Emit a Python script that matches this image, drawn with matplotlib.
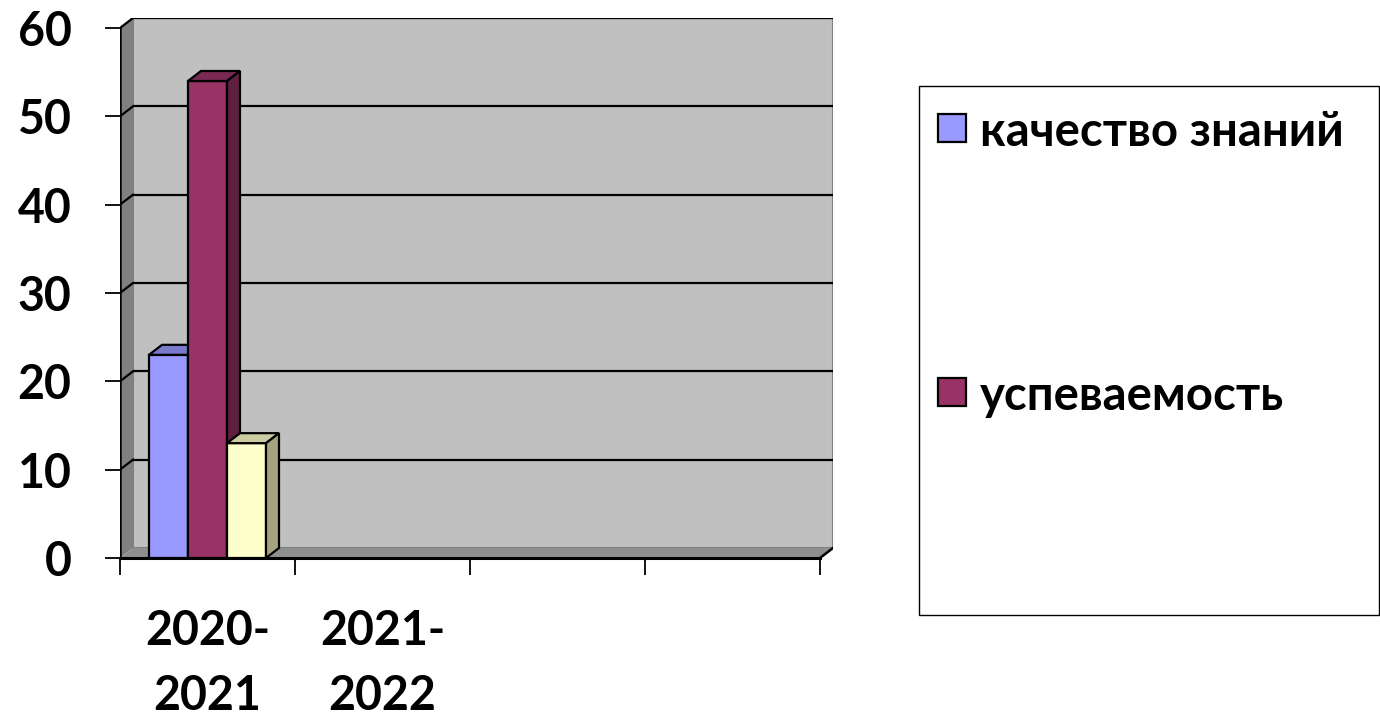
import numpy as np
import matplotlib
matplotlib.use("Agg")
import matplotlib.pyplot as plt
from matplotlib.patches import Polygon, Rectangle

# ---------------- data ----------------
categories = ["2020-\n2021", "2021-\n2022", "", ""]
series_names = ["качество знаний", "успеваемость", None]
quality = [23, np.nan, np.nan, np.nan]
progress = [54, np.nan, np.nan, np.nan]
third = [13, np.nan, np.nan, np.nan]
y_ticks = [0, 10, 20, 30, 40, 50, 60]

series_values = [quality, progress, third]
front_colors = ["#9999FF", "#993366", "#FFFFCC"]
top_colors = ["#7A7ACC", "#7A2952", "#CCCCA3"]
side_colors = ["#6B6BB3", "#5F2040", "#A3A380"]

FONT = ["Lato", "DejaVu Sans"]
plt.rcParams["font.family"] = FONT
plt.rcParams["font.weight"] = "bold"

W, H = 1380, 720
fig = plt.figure(figsize=(W / 100, H / 100), dpi=100)
fig.patch.set_facecolor("white")

# axes in pixel geometry
x0, x1, ytop, ybot = 120, 833, 18, 558
ax = fig.add_axes([x0 / W, 1 - ybot / H, (x1 - x0) / W, (ybot - ytop) / H])
ax.patch.set_visible(False)

ncat = len(categories)
ymax = 60
px_per_cat = 700 / ncat
px_per_unit = 530 / ymax
dx = 13 / px_per_cat
dy = 10 / px_per_unit
ax.set_xlim(0, ncat + dx)
ax.set_ylim(0, ymax + dy)
for s in ax.spines.values():
    s.set_visible(False)

# walls
side_wall = Polygon([(0, 0), (dx, dy), (dx, ymax + dy), (0, ymax)], closed=True,
                    facecolor="#808080", edgecolor="none", zorder=0)
ax.add_patch(side_wall)
back_wall = Rectangle((dx, dy), ncat, ymax, facecolor="#C0C0C0",
                      edgecolor="#808080", lw=1.5, zorder=0)
ax.add_patch(back_wall)
floor = Polygon([(0, 0), (ncat, 0), (ncat + dx, dy), (dx, dy)], closed=True,
                facecolor="#8F8F8F", edgecolor="none", zorder=0.5)
ax.add_patch(floor)

# gridlines
for v in y_ticks[1:]:
    ax.plot([dx, ncat + dx], [v + dy, v + dy], color="black", lw=1.6, zorder=1,
            solid_capstyle="butt")
    ax.plot([0, dx], [v, v + dy], color="black", lw=1.6, zorder=1)
# axis lines
ax.plot([0, 0], [0, ymax], color="black", lw=1.8, zorder=2)
ax.plot([0, ncat], [0, 0], color="black", lw=2.2, zorder=2, clip_on=False)
ax.plot([ncat, ncat + dx], [0, dy], color="black", lw=1.8, zorder=2)

# bars
nser = len(series_values)
group = 0.6686
bw = group / nser
z = 3
for ci in range(ncat):
    for si, vals in enumerate(series_values):
        h = vals[ci]
        if np.isnan(h):
            continue
        c = ci + 0.5 + (si - (nser - 1) / 2) * bw
        l, r = c - bw / 2, c + bw / 2
        ax.bar(c, h, bw, color=front_colors[si], edgecolor="black", lw=1.6, zorder=z)
        ax.add_patch(Polygon([(l, h), (r, h), (r + dx, h + dy), (l + dx, h + dy)],
                             closed=True, facecolor=top_colors[si], edgecolor="black",
                             lw=1.6, zorder=z))
        ax.add_patch(Polygon([(r, 0), (r + dx, dy), (r + dx, h + dy), (r, h)],
                             closed=True, facecolor=side_colors[si], edgecolor="black",
                             lw=1.6, zorder=z))
        z += 1

# ticks
ax.set_yticks(y_ticks)
ax.set_yticklabels([str(v) for v in y_ticks])
ax.tick_params(axis="y", length=11, width=1.3, pad=24, labelsize=33.5)
ax.set_xticks(np.arange(ncat + 1))
ax.set_xticklabels([""] * (ncat + 1))
ax.tick_params(axis="x", which="major", length=12.5, width=1.3)
ax.set_xticks(np.arange(ncat) + 0.5, minor=True)
ax.set_xticklabels(categories, minor=True)
ax.tick_params(axis="x", which="minor", length=0, pad=37, labelsize=33.5)
for t in ax.get_xticklabels(minor=True):
    t.set_linespacing(1.57)
    t.set_fontweight("bold")
for t in ax.get_yticklabels():
    t.set_fontweight("bold")

# legend (manual box, Excel-like)
def fx(x):
    return x / W
def fy(y):
    return 1 - y / H

fig.patches.append(Rectangle((fx(919), fy(615)), fx(1379) - fx(919), fy(86) - fy(615),
                             transform=fig.transFigure, facecolor="white",
                             edgecolor="black", lw=1.0))
leg_y = [128, 392]
for i, name in enumerate([n for n in series_names if n]):
    yc = leg_y[i]
    fig.patches.append(Rectangle((fx(938), fy(yc + 14)), fx(28), 28 / H,
                                 transform=fig.transFigure,
                                 facecolor=front_colors[i], edgecolor="black", lw=1.6))
    fig.text(fx(980), fy(yc), name, fontsize=34, fontweight="bold",
             va="center_baseline", ha="left", family=FONT)

fig.savefig("out.png", dpi=100)
